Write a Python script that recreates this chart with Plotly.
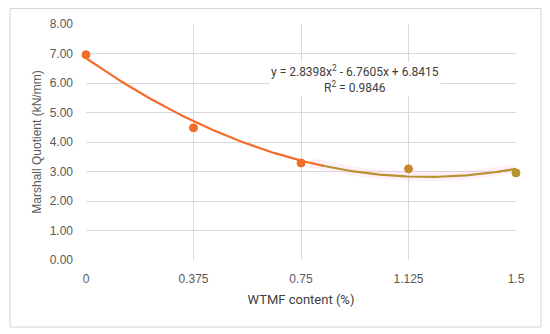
import numpy as np
import plotly.graph_objects as go

# Data
wtmf = [0, 0.375, 0.75, 1.125, 1.5]
mq = [6.96, 4.48, 3.29, 3.09, 2.95]
x_ticks = [0, 0.375, 0.75, 1.125, 1.5]
x_ticklabels = ["0", "0.375", "0.75", "1.125", "1.5"]
y_ticks = [0, 1, 2, 3, 4, 5, 6, 7, 8]
coef = [2.8398, -6.7605, 6.8415]  # trendline y = a x^2 + b x + c
r2 = 0.9846

ORANGE = "#F36C2A"
OLIVE = "#B8922E"

xs = np.linspace(0, 1.5, 200)
ys = np.polyval(coef, xs)
split = 0.82

fig = go.Figure()
# faint pink halo
m = xs >= 0.78
fig.add_trace(go.Scatter(x=xs[m], y=ys[m], mode="lines",
                         line=dict(color="rgba(255,190,230,0.25)", width=9),
                         hoverinfo="skip", showlegend=False))
m1 = xs <= split + 0.01
fig.add_trace(go.Scatter(x=xs[m1], y=ys[m1], mode="lines",
                         line=dict(color=ORANGE, width=2.2), showlegend=False))
m2 = xs >= split
fig.add_trace(go.Scatter(x=xs[m2], y=ys[m2], mode="lines",
                         line=dict(color=OLIVE, width=2.2), showlegend=False))

marker_colors = [ORANGE, ORANGE, ORANGE, OLIVE, OLIVE]
marker_lines = [ORANGE, ORANGE, ORANGE, ORANGE, OLIVE]
fig.add_trace(go.Scatter(x=wtmf, y=mq, mode="markers",
                         marker=dict(color=marker_colors, size=8,
                                     line=dict(color=marker_lines, width=1)),
                         showlegend=False, cliponaxis=False))

eq_text = (f"y = {coef[0]:.4f}x<sup>2</sup> - {abs(coef[1]):.4f}x + {coef[2]:.4f}"
           f"<br>R<sup>2</sup> = {r2:.4f}")
fig.add_annotation(x=0.94, y=6.15, xref="x", yref="y", text=eq_text,
                   showarrow=False, align="center", bgcolor="white",
                   font=dict(family="Liberation Sans Narrow, Arial Narrow, Roboto, sans-serif",
                             size=12, color="#404040"))

# outer chart border (figure is offset 8px by the page body margin)
PW, PH = 430, 236
fig.add_shape(type="rect", xref="paper", yref="paper",
              x0=(2 - 78) / PW, x1=(533 - 78) / PW,
              y0=-(319 - 16 - PH) / PH, y1=1 + 16 / PH - 0.002,
              line=dict(color="#D4D4D4", width=1), layer="above")

axis_font = dict(family="Liberation Sans, Arial, sans-serif", size=12, color="#595959")
fig.update_xaxes(range=[0, 1.5], tickvals=x_ticks, ticktext=x_ticklabels,
                 showgrid=True, gridcolor="#D9D9D9", gridwidth=1,
                 zeroline=False, showline=False, ticks="", tickfont=axis_font,
                 ticklabelstandoff=10, automargin=False,
                 title=dict(text="WTMF content (%)", standoff=9,
                            font=dict(family="Liberation Sans Narrow, Arial Narrow, Roboto, sans-serif",
                                      size=13, color="#404040")))
fig.update_yaxes(range=[0, 8], tickvals=y_ticks, tickformat=".2f",
                 showgrid=True, gridcolor="#D9D9D9", gridwidth=1,
                 zeroline=False, showline=False, ticks="", tickfont=axis_font,
                 ticklabelstandoff=12, automargin=False,
                 title=dict(text="Marshall Quotient (kN/mm)", standoff=5,
                            font=dict(family="Liberation Sans, Arial, sans-serif",
                                      size=12, color="#595959")))

fig.update_layout(width=542, height=326,
                  margin=dict(l=78, r=34, t=16, b=74),
                  paper_bgcolor="white", plot_bgcolor="white",
                  showlegend=False)

fig.write_html("out.html")
